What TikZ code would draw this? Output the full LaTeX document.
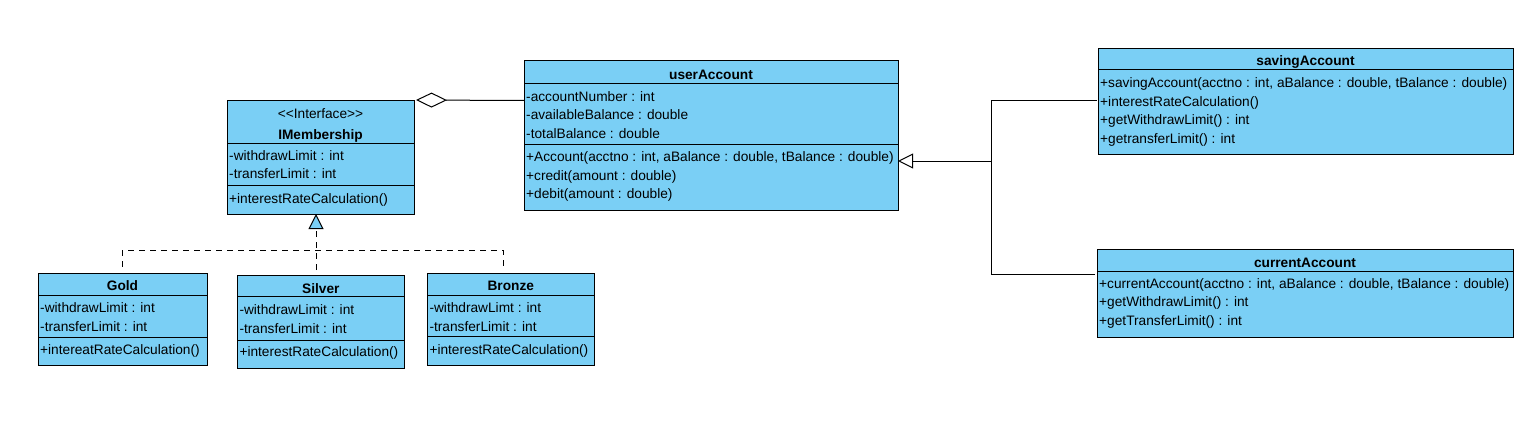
\documentclass[tikz,border=0pt]{standalone}
\usepackage{fontspec}
\setmainfont{Liberation Sans}
\usetikzlibrary{arrows.meta}
\definecolor{umlblue}{RGB}{122,207,245}
\newcommand{\umlfs}{\fontsize{13.7}{16}\selectfont}
\tikzset{
  cls/.style={draw, fill=umlblue, line width=1pt, anchor=north west, inner sep=0pt, outer sep=0pt},
  divl/.style={line width=1pt},
  mem/.style={anchor=base west, inner sep=0pt, font=\umlfs},
  ttl/.style={anchor=base, inner sep=0pt, font=\umlfs\bfseries},
  stereo/.style={anchor=base, inner sep=0pt, font=\umlfs},
  conn/.style={line width=1pt},
  dline/.style={line width=1pt, dash pattern=on 6pt off 5pt},
}
\begin{document}
\begin{tikzpicture}[x=1pt,y=-1pt]
\useasboundingbox (0,0) rectangle (1530,428);

% IMembership
\node[cls, minimum width=187pt, minimum height=114pt] (im) at (227,100) {};
\draw[divl] (im.west |- 0,143) -- (im.east |- 0,143);
\draw[divl] (im.west |- 0,185.5) -- (im.east |- 0,185.5);
\node[stereo] (im-s) at (320.5,118) {<\kern0pt<Interface>\kern0pt>};
\node[ttl] (im-t) at (320.5,139) {IMembership};
\node[mem] (im-a1) at (229,160.5) {-withdrawLimit : int};
\node[mem] (im-a2) at (229,178.5) {-transferLimit : int};
\node[mem] (im-m1) at (229,203) {+interestRateCalculation()};

% userAccount
\node[cls, minimum width=374pt, minimum height=149pt] (ua) at (524,61) {};
\draw[divl] (ua.west |- 0,83.5) -- (ua.east |- 0,83.5);
\draw[divl] (ua.west |- 0,144.5) -- (ua.east |- 0,144.5);
\node[ttl] (ua-t) at (711,79) {userAccount};
\node[mem] (ua-a1) at (526,101) {-accountNumber : int};
\node[mem] (ua-a2) at (526,119.5) {-availableBalance : double};
\node[mem] (ua-a3) at (526,138) {-totalBalance : double};
\node[mem] (ua-m1) at (526,161.5) {+Account(acctno : int, aBalance : double, tBalance : double)};
\node[mem] (ua-m2) at (526,180) {+credit(amount : double)};
\node[mem] (ua-m3) at (526,198.5) {+debit(amount : double)};

% savingAccount
\node[cls, minimum width=415pt, minimum height=106pt] (sa) at (1098,48.5) {};
\draw[divl] (sa.west |- 0,69.5) -- (sa.east |- 0,69.5);
\node[ttl] (sa-t) at (1305.5,66) {savingAccount};
\node[mem] (sa-m1) at (1100,87.5) {+savingAccount(acctno : int, aBalance : double, tBalance : double)};
\node[mem] (sa-m2) at (1100,106) {+interestRateCalculation()};
\node[mem] (sa-m3) at (1100,124.5) {+getWithdrawLimit() : int};
\node[mem] (sa-m4) at (1100,143) {+getransferLimit() : int};

% currentAccount
\node[cls, minimum width=416pt, minimum height=87.5pt] (ca) at (1097,249.5) {};
\draw[divl] (ca.west |- 0,271) -- (ca.east |- 0,271);
\node[ttl] (ca-t) at (1305,267) {currentAccount};
\node[mem] (ca-m1) at (1099,288) {+currentAccount(acctno : int, aBalance : double, tBalance : double)};
\node[mem] (ca-m2) at (1099,306.5) {+getWithdrawLimit() : int};
\node[mem] (ca-m3) at (1099,325) {+getTransferLimit() : int};

% Gold
\node[cls, minimum width=169pt, minimum height=92.5pt] (gold) at (38,273.3) {};
\draw[divl] (gold.west |- 0,295) -- (gold.east |- 0,295);
\node[ttl] (gold-t) at (122.5,290.5) {Gold};
\node[mem] (gold-a1) at (40,312.5) {-withdrawLimit : int};
\node[mem] (gold-a2) at (40,331) {-transferLimit : int};
\draw[divl] (gold.west |- 0,337.3) -- (gold.east |- 0,337.3);
\node[mem] (gold-m1) at (40,354) {+intereatRateCalculation()};

% Silver
\node[cls, minimum width=167pt, minimum height=92.5pt] (silver) at (237.3,275.7) {};
\draw[divl] (silver.west |- 0,296.7) -- (silver.east |- 0,296.7);
\node[ttl] (silver-t) at (320.8,293) {Silver};
\node[mem] (silver-a1) at (239.3,314.3) {-withdrawLimit : int};
\node[mem] (silver-a2) at (239.3,333) {-transferLimit : int};
\draw[divl] (silver.west |- 0,340) -- (silver.east |- 0,340);
\node[mem] (silver-m1) at (239.3,356.5) {+interestRateCalculation()};

% Bronze
\node[cls, minimum width=167pt, minimum height=91.7pt] (bronze) at (427.3,273.3) {};
\draw[divl] (bronze.west |- 0,295) -- (bronze.east |- 0,295);
\node[ttl] (bronze-t) at (510.8,290.5) {Bronze};
\node[mem] (bronze-a1) at (429.3,312.5) {-withdrawLimt : int};
\node[mem] (bronze-a2) at (429.3,331) {-transferLimit : int};
\draw[divl] (bronze.west |- 0,336.7) -- (bronze.east |- 0,336.7);
\node[mem] (bronze-m1) at (429.3,354) {+interestRateCalculation()};

% aggregation userAccount -> IMembership
\draw[conn, -{Diamond[open, length=31pt, width=15pt, line width=1pt]}] (ua.west |- 0,100.5) -- ([xshift=2pt]im.north east);

% generalization
\coordinate (j) at (991,161);
\coordinate (saj) at (1097,100);
\coordinate (caj) at (1095,274);
\draw[conn] (saj) -| (j);
\draw[conn] (caj) -| (j);
\draw[conn, -{Triangle[open, length=15pt, width=15pt, line width=1pt]}] (j) -- (ua.east |- j);

% realization
\coordinate (gd) at (122.3,266.7);
\coordinate (sv) at (316,270);
\coordinate (bz) at (503.3,266.7);
\draw[dline] (gd) |- (bz |- 0,250.5) -- (bz);
\draw[dline, -{Triangle[fill=umlblue, length=15pt, width=15pt, line width=1pt]}] (sv) -- (sv |- im.south);
\end{tikzpicture}
\end{document}
